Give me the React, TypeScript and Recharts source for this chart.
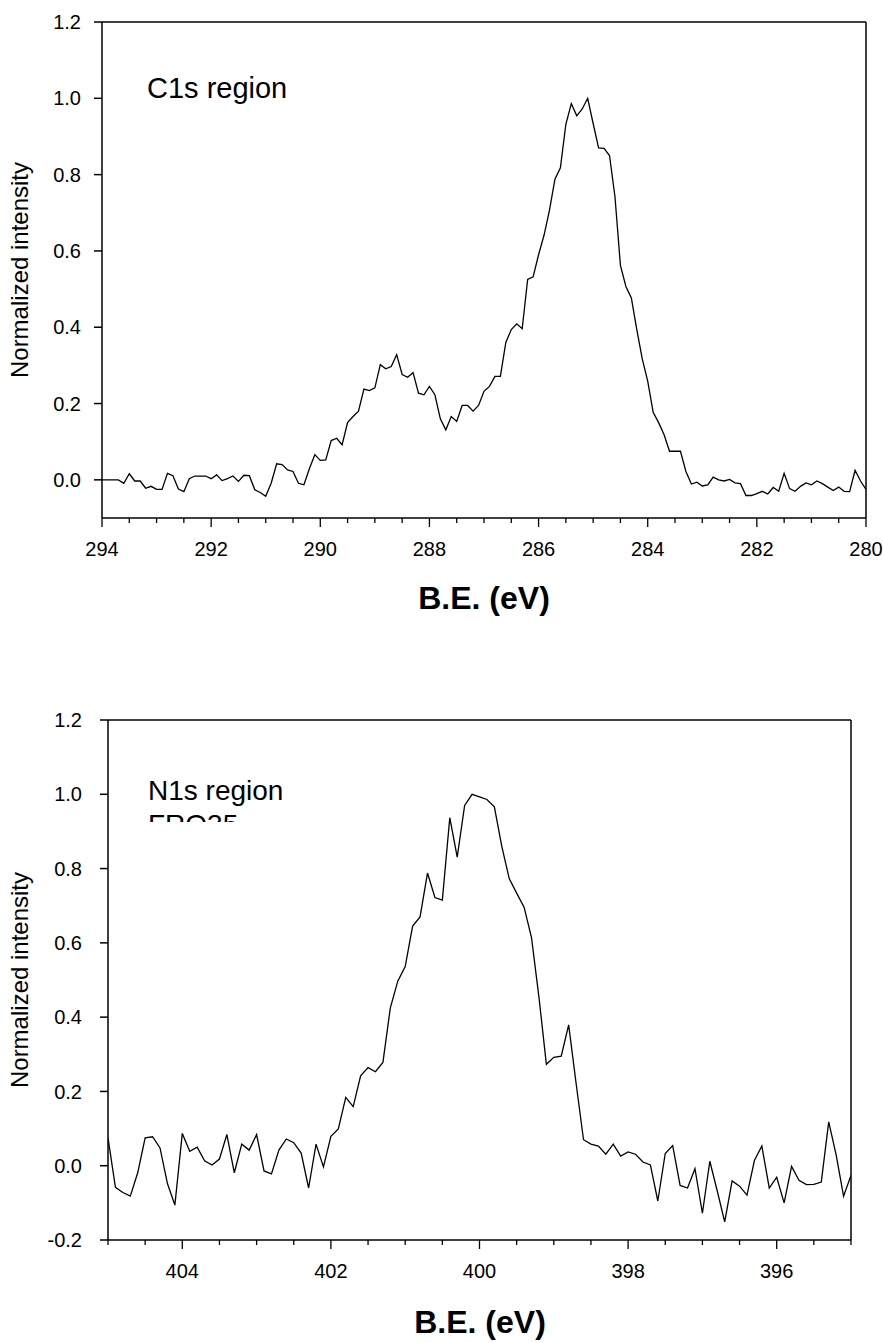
import React from 'react';
import { LineChart, Line, XAxis, YAxis, ReferenceLine } from 'recharts';

const FONT = '"Liberation Sans", Arial, Helvetica, sans-serif';

// C1s region: binding energy grid 294 -> 280 eV, step 0.1 eV
const c1sStartEV = 294;
const c1sStepEV = 0.1;
const c1sIntensity = [
  0.0, 0.0, 0.0, 0.0, -0.009, 0.016, -0.003, -0.003, -0.022, -0.017,
  -0.025, -0.025, 0.017, 0.011, -0.024, -0.031, 0.003, 0.01, 0.01, 0.01,
  0.003, 0.013, -0.002, 0.003, 0.01, -0.004, 0.012, 0.011, -0.026, -0.033,
  -0.043, -0.009, 0.042, 0.04, 0.026, 0.022, -0.009, -0.013, 0.029, 0.066,
  0.051, 0.052, 0.103, 0.109, 0.092, 0.15, 0.166, 0.18, 0.238, 0.234,
  0.241, 0.302, 0.291, 0.297, 0.328, 0.276, 0.269, 0.281, 0.227, 0.223,
  0.245, 0.223, 0.16, 0.131, 0.166, 0.153, 0.195, 0.195, 0.18, 0.195,
  0.232, 0.245, 0.271, 0.271, 0.36, 0.394, 0.409, 0.396, 0.525, 0.532,
  0.59, 0.641, 0.707, 0.788, 0.818, 0.932, 0.986, 0.954, 0.972, 1.0,
  0.934, 0.87, 0.869, 0.85, 0.742, 0.562, 0.507, 0.477, 0.394, 0.317,
  0.259, 0.177, 0.15, 0.118, 0.075, 0.075, 0.075, 0.022, -0.011, -0.006,
  -0.016, -0.013, 0.007, 0.0, -0.003, 0.001, -0.008, -0.01, -0.041, -0.041,
  -0.036, -0.03, -0.037, -0.02, -0.03, 0.017, -0.023, -0.03, -0.017, -0.008,
  -0.013, -0.003, -0.01, -0.019, -0.028, -0.019, -0.03, -0.031, 0.025, -0.003,
  -0.025,
];

// N1s region: binding energy grid 405 -> 395 eV, step 0.1 eV
const n1sStartEV = 405;
const n1sStepEV = 0.1;
const n1sIntensity = [
  0.075, -0.058, -0.072, -0.082, -0.019, 0.075, 0.078, 0.048, -0.048, -0.106,
  0.087, 0.039, 0.05, 0.013, 0.002, 0.018, 0.084, -0.019, 0.058, 0.042,
  0.084, -0.014, -0.022, 0.042, 0.072, 0.062, 0.034, -0.06, 0.058, -0.003,
  0.079, 0.099, 0.184, 0.159, 0.242, 0.264, 0.253, 0.278, 0.425, 0.497,
  0.536, 0.645, 0.67, 0.788, 0.722, 0.715, 0.937, 0.831, 0.97, 1.0,
  0.993, 0.986, 0.966, 0.86, 0.773, 0.734, 0.696, 0.614, 0.454, 0.273,
  0.292, 0.295, 0.379, 0.222, 0.07, 0.058, 0.053, 0.031, 0.058, 0.026,
  0.037, 0.031, 0.01, 0.002, -0.095, 0.033, 0.054, -0.053, -0.06, -0.008,
  -0.128, 0.012, -0.068, -0.151, -0.041, -0.055, -0.079, 0.014, 0.053, -0.06,
  -0.031, -0.1, -0.002, -0.039, -0.051, -0.05, -0.044, 0.118, 0.029, -0.082,
  -0.026,
];

// Axis ticks
const c1sMajorTicks = [294, 292, 290, 288, 286, 284, 282, 280];
const c1sMinorTicks = [
  293.5, 293, 292.5, 291.5, 291, 290.5, 289.5, 289, 288.5, 287.5, 287, 286.5,
  285.5, 285, 284.5, 283.5, 283, 282.5, 281.5, 281, 280.5,
];
const c1sYTicks = [0, 0.2, 0.4, 0.6, 0.8, 1.0, 1.2];

const n1sMajorTicks = [404, 402, 400, 398, 396];
const n1sMinorTicks = [
  405, 404.5, 403.5, 403, 402.5, 401.5, 401, 400.5, 399.5, 399, 398.5, 397.5,
  397, 396.5, 395.5, 395,
];
const n1sYTicks = [-0.2, 0, 0.2, 0.4, 0.6, 0.8, 1.0, 1.2];

const c1sData = c1sIntensity.map((v, i) => ({
  be: +(c1sStartEV - i * c1sStepEV).toFixed(1),
  intensity: v,
}));
const n1sData = n1sIntensity.map((v, i) => ({
  be: +(n1sStartEV - i * n1sStepEV).toFixed(1),
  intensity: v,
}));

const TICK_FONT = 20;

const makeXTick = (majors: number[]) => (props: any) => {
  const { x, y, payload } = props;
  const v = payload.value;
  const isMajor = majors.some((m) => Math.abs(m - v) < 1e-6);
  return (
    <g>
      <line x1={x} y1={y} x2={x} y2={y + (isMajor ? 9 : 5)} stroke="#000" strokeWidth={1.3} />
      {isMajor && (
        <text x={x} y={y + 38} textAnchor="middle" fontSize={TICK_FONT} fontFamily={FONT} fill="#000">
          {v}
        </text>
      )}
    </g>
  );
};

const fmtY = (v: number) => v.toFixed(1);

const axisStroke = { stroke: '#000', strokeWidth: 1.5 };

export default function App() {
  return (
    <div style={{ position: 'absolute', left: 0, top: 0, width: 883, height: 1343, background: '#fff' }}>
      <div style={{ position: 'absolute', left: 0, top: 0 }}>
        <LineChart width={883} height={640} data={c1sData} margin={{ top: 22, right: 17, bottom: 92, left: 42 }}>
          <XAxis
            dataKey="be"
            type="number"
            domain={[280, 294]}
            reversed
            allowDataOverflow
            ticks={[...c1sMajorTicks, ...c1sMinorTicks]}
            interval={0}
            tickSize={0}
            tickMargin={0}
            tickLine={false}
            tick={makeXTick(c1sMajorTicks)}
            axisLine={axisStroke}
            height={30}
          />
          <YAxis
            type="number"
            domain={[-0.1, 1.2]}
            allowDataOverflow
            ticks={c1sYTicks}
            interval={0}
            tickFormatter={fmtY}
            tickSize={8}
            tickMargin={13}
            tickLine={axisStroke}
            axisLine={axisStroke}
            tick={{ fill: '#000', fontSize: TICK_FONT, fontFamily: FONT }}
            width={60}
          />
          <ReferenceLine y={1.2} stroke="#000" strokeWidth={1.5} ifOverflow="visible" />
          <ReferenceLine x={280} stroke="#000" strokeWidth={1.5} ifOverflow="visible" />
          <Line
            type="linear"
            dataKey="intensity"
            stroke="#000"
            strokeWidth={1.3}
            dot={false}
            isAnimationActive={false}
          />
        </LineChart>
      </div>
      <div style={{ position: 'absolute', left: 0, top: 700 }}>
        <LineChart width={883} height={643} data={n1sData} margin={{ top: 20, right: 32, bottom: 73, left: 48 }}>
          <XAxis
            dataKey="be"
            type="number"
            domain={[395, 405]}
            reversed
            allowDataOverflow
            ticks={[...n1sMajorTicks, ...n1sMinorTicks]}
            interval={0}
            tickSize={0}
            tickMargin={0}
            tickLine={false}
            tick={makeXTick(n1sMajorTicks)}
            axisLine={axisStroke}
            height={30}
          />
          <YAxis
            type="number"
            domain={[-0.2, 1.2]}
            allowDataOverflow
            ticks={n1sYTicks}
            interval={0}
            tickFormatter={fmtY}
            tickSize={8}
            tickMargin={18}
            tickLine={axisStroke}
            axisLine={axisStroke}
            tick={{ fill: '#000', fontSize: TICK_FONT, fontFamily: FONT }}
            width={60}
          />
          <ReferenceLine y={1.2} stroke="#000" strokeWidth={1.5} ifOverflow="visible" />
          <ReferenceLine x={395} stroke="#000" strokeWidth={1.5} ifOverflow="visible" />
          <Line
            type="linear"
            dataKey="intensity"
            stroke="#000"
            strokeWidth={1.3}
            dot={false}
            isAnimationActive={false}
          />
        </LineChart>
      </div>
      <svg
        width={883}
        height={1343}
        style={{ position: 'absolute', left: 0, top: 0, pointerEvents: 'none' }}
      >
        <defs>
          <clipPath id="froClip">
            <rect x={100} y={700} width={400} height={122} />
          </clipPath>
        </defs>
        <text x={147} y={98} fontSize={29} fontFamily={FONT} fill="#000">C1s region</text>
        <text x={148} y={800} fontSize={28} fontFamily={FONT} fill="#000">N1s region</text>
        <text x={148} y={834} fontSize={28} fontFamily={FONT} fill="#000" clipPath="url(#froClip)">FRO35</text>
        <text x={28} y={270} fontSize={24} fontFamily={FONT} fill="#000" textAnchor="middle" transform="rotate(-90 28 270)">
          Normalized intensity
        </text>
        <text x={28} y={980} fontSize={24} fontFamily={FONT} fill="#000" textAnchor="middle" transform="rotate(-90 28 980)">
          Normalized intensity
        </text>
        <text x={484} y={609} fontSize={32} fontWeight="bold" fontFamily={FONT} fill="#000" textAnchor="middle">
          B.E. (eV)
        </text>
        <text x={480} y={1333} fontSize={32} fontWeight="bold" fontFamily={FONT} fill="#000" textAnchor="middle">
          B.E. (eV)
        </text>
      </svg>
    </div>
  );
}
